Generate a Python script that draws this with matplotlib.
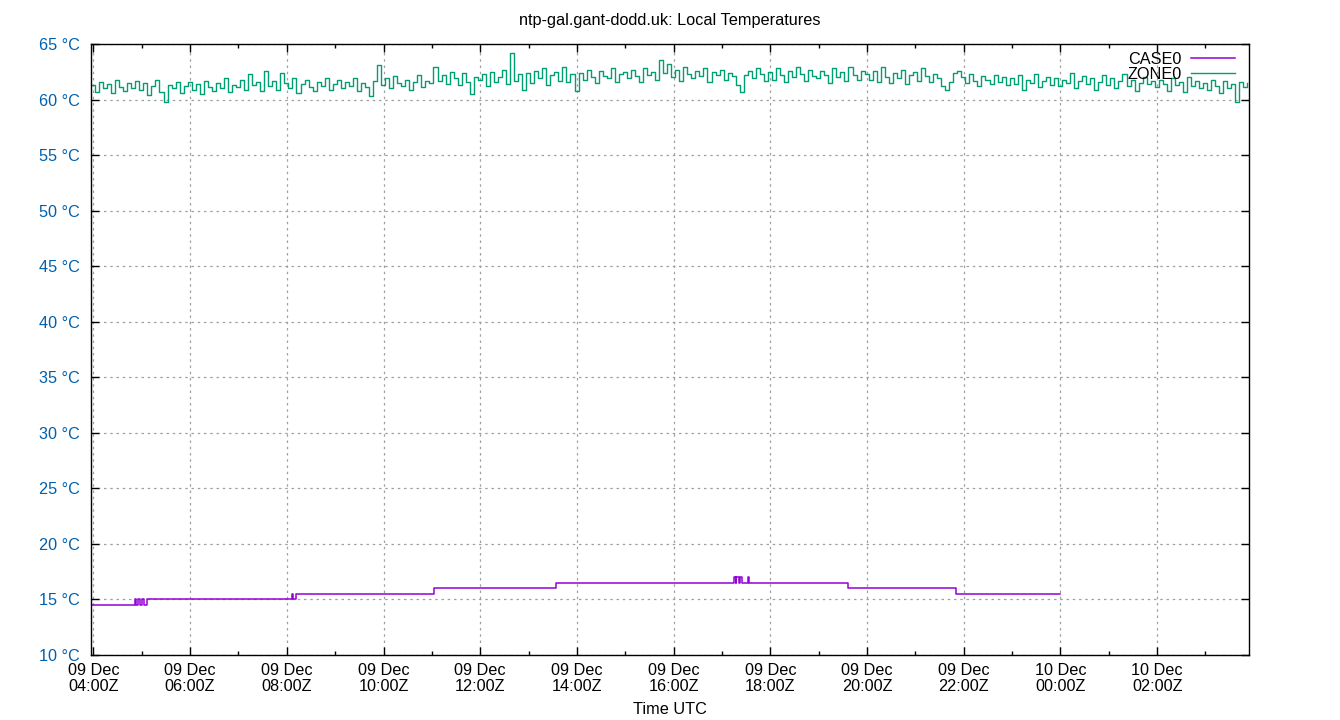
import datetime as dt
import numpy as np
import matplotlib
matplotlib.use("Agg")
from matplotlib import pyplot as plt
import matplotlib.dates as mdates

plt.rcParams['font.family'] = ['Liberation Sans', 'DejaVu Sans']

# ZONE0: one row per hour, 5 minute samples starting 09 Dec 03:57Z
zone0_start = dt.datetime(2020, 12, 9, 3, 57)
zone0_step_min = 5
zone0 = [
    61.3, 60.7, 61.6, 61.0, 61.4, 60.6, 61.8, 61.1, 60.8, 61.5, 61.0, 61.7,
    60.9, 61.5, 60.4, 61.2, 61.8, 60.7, 59.8, 61.3, 61.0, 61.6, 60.6, 61.2,
    61.6, 60.9, 61.4, 60.5, 61.7, 61.1, 60.8, 61.5, 61.0, 61.9, 60.7, 61.3,
    61.1, 61.8, 60.9, 62.3, 61.3, 61.6, 60.8, 62.6, 61.2, 61.7, 60.9, 62.4,
    61.5, 61.0, 61.9, 60.6, 61.4, 61.8, 61.1, 60.8, 61.6, 61.2, 61.9, 60.9,
    61.4, 61.8, 61.0, 61.6, 61.2, 61.9, 60.8, 61.5, 61.1, 60.3, 61.7, 63.1,
    61.3, 61.9, 61.0, 62.1, 61.5, 61.2, 61.8, 60.9, 61.6, 62.2, 61.1, 61.7,
    61.5, 62.9, 61.7, 62.2, 61.4, 62.5, 61.9, 61.3, 62.4, 61.6, 60.5, 62.0,
    61.8, 62.3, 61.2, 62.5, 61.6, 62.0, 62.7, 61.4, 64.2, 61.7, 62.3, 60.9,
    62.4, 61.5, 62.6, 61.9, 62.8, 61.3, 62.2, 62.5, 61.7, 62.9, 61.6, 62.3,
    60.8, 62.4, 61.8, 62.7, 62.0, 61.5, 62.6, 62.1, 61.9, 62.8, 61.6, 62.3,
    62.5, 61.9, 62.7, 62.1, 61.6, 62.8, 62.2, 62.5, 61.8, 63.6, 62.4, 63.2,
    62.0, 62.7, 61.7, 62.9, 62.3, 61.9, 62.6, 62.1, 62.8, 61.6, 62.5, 62.2,
    62.7, 61.8, 62.4, 62.1, 61.3, 60.7, 62.2, 62.6, 61.9, 62.8, 62.3, 61.7,
    62.5, 61.8, 62.8, 62.2, 61.6, 62.6, 62.0, 62.9, 62.3, 61.7, 62.7, 62.1,
    61.9, 62.6, 62.2, 61.5, 62.8, 62.0, 62.5, 61.7, 62.9, 62.2, 61.8, 62.6,
    62.3, 61.8, 62.6, 61.6, 62.9, 62.0, 61.5, 62.4, 61.9, 62.7, 61.4, 62.2,
    62.5, 61.7, 62.8, 62.1, 61.6, 62.3, 61.9, 61.2, 60.9, 61.6, 62.4, 62.6,
    62.0, 61.5, 62.3, 61.7, 61.2, 62.1, 61.8, 61.4, 62.2, 61.6, 62.0, 61.3,
    61.9, 61.4, 62.2, 60.9, 61.8, 61.5, 62.3, 61.1, 61.7, 62.0, 61.3, 61.9,
    61.2, 61.8, 61.5, 62.4, 61.0, 61.7, 62.1, 61.4, 61.9, 60.9, 61.6, 62.2,
    61.3, 61.9, 61.0, 61.7, 62.3, 61.2, 61.8, 60.8, 61.5, 62.0, 61.4, 61.7,
    61.1, 61.8, 61.4, 60.8, 61.9, 61.3, 61.6, 60.7, 62.0, 61.2, 61.7, 61.0,
    61.5, 60.9, 61.8, 61.2, 60.6, 61.7, 61.0, 61.4, 59.8, 61.6, 61.1, 61.5,
]

# CASE0: change points (time of change, new value)
case0_times = [
    "2020-12-09 03:57", "2020-12-09 04:51", "2020-12-09 04:53", "2020-12-09 04:55",
    "2020-12-09 04:58", "2020-12-09 05:00", "2020-12-09 05:03", "2020-12-09 05:06",
    "2020-12-09 08:06", "2020-12-09 08:08", "2020-12-09 08:11", "2020-12-09 11:03",
    "2020-12-09 13:34", "2020-12-09 17:15", "2020-12-09 17:17", "2020-12-09 17:18",
    "2020-12-09 17:21", "2020-12-09 17:22", "2020-12-09 17:25", "2020-12-09 17:32",
    "2020-12-09 17:34", "2020-12-09 19:36", "2020-12-09 21:50", "2020-12-10 00:00",
]
case0 = [
    14.5, 15.0, 14.5, 15.0,
    14.5, 15.0, 14.5, 15.0,
    15.5, 15.0, 15.5, 16.0,
    16.5, 17.0, 16.5, 17.0,
    16.5, 17.0, 16.5, 17.0,
    16.5, 16.0, 15.5, 15.5,
]

yticks = [10, 15, 20, 25, 30, 35, 40, 45, 50, 55, 60, 65]
ytick_labels = ["%d °C" % v for v in yticks]

zone0_t = [zone0_start + dt.timedelta(minutes=zone0_step_min * i) for i in range(len(zone0))]
case0_t = [dt.datetime.strptime(s, "%Y-%m-%d %H:%M") for s in case0_times]

FS = 11.7

fig = plt.figure(figsize=(13.4, 7.2), dpi=100)
ax = fig.add_axes([91 / 1340, 1 - 655 / 720, (1249 - 91) / 1340, (655 - 44) / 720])

ax.plot(case0_t, case0, color='#9400d3', lw=1.1, drawstyle='steps-post', label='CASE0')
ax.plot(zone0_t, zone0, color='#009e73', lw=1.0, drawstyle='steps-post', label='ZONE0')

ax.set_xlim(dt.datetime(2020, 12, 9, 3, 57), dt.datetime(2020, 12, 10, 3, 54))
ax.set_ylim(10, 65)
ax.set_yticks(yticks)
ax.set_yticklabels(ytick_labels, color='#0060ad')

ax.xaxis.set_major_locator(mdates.HourLocator(byhour=range(0, 24, 2)))
ax.xaxis.set_minor_locator(mdates.HourLocator(byhour=range(1, 24, 2)))
ax.xaxis.set_major_formatter(mdates.DateFormatter("%d %b\n%H:%MZ"))

ax.tick_params(axis='both', which='major', direction='in', length=6, width=1,
               top=True, right=True, labelsize=FS)
ax.tick_params(axis='y', which='major', pad=8)
ax.tick_params(axis='x', which='major', pad=6)
ax.tick_params(axis='x', which='minor', direction='in', length=3, width=1, top=True)
for lab in ax.get_xticklabels():
    lab.set_linespacing(1.05)

ax.grid(True, which='major', color='#a0a0a0', linestyle=(0, (2, 3)), lw=0.9)
for s in ax.spines.values():
    s.set_linewidth(1)

ax.set_xlabel('Time UTC', fontsize=FS, labelpad=6)
fig.text(0.5, 1 - 21 / 720, 'ntp-gal.gant-dodd.uk: Local Temperatures',
         ha='center', va='center', fontsize=FS)

ax.legend(loc='upper right', frameon=False, markerfirst=False, fontsize=FS,
          handlelength=2.7, handletextpad=0.6, labelspacing=0.0,
          bbox_to_anchor=(0.995, 1.0), borderaxespad=0.1)

fig.savefig('out.png', dpi=100)
